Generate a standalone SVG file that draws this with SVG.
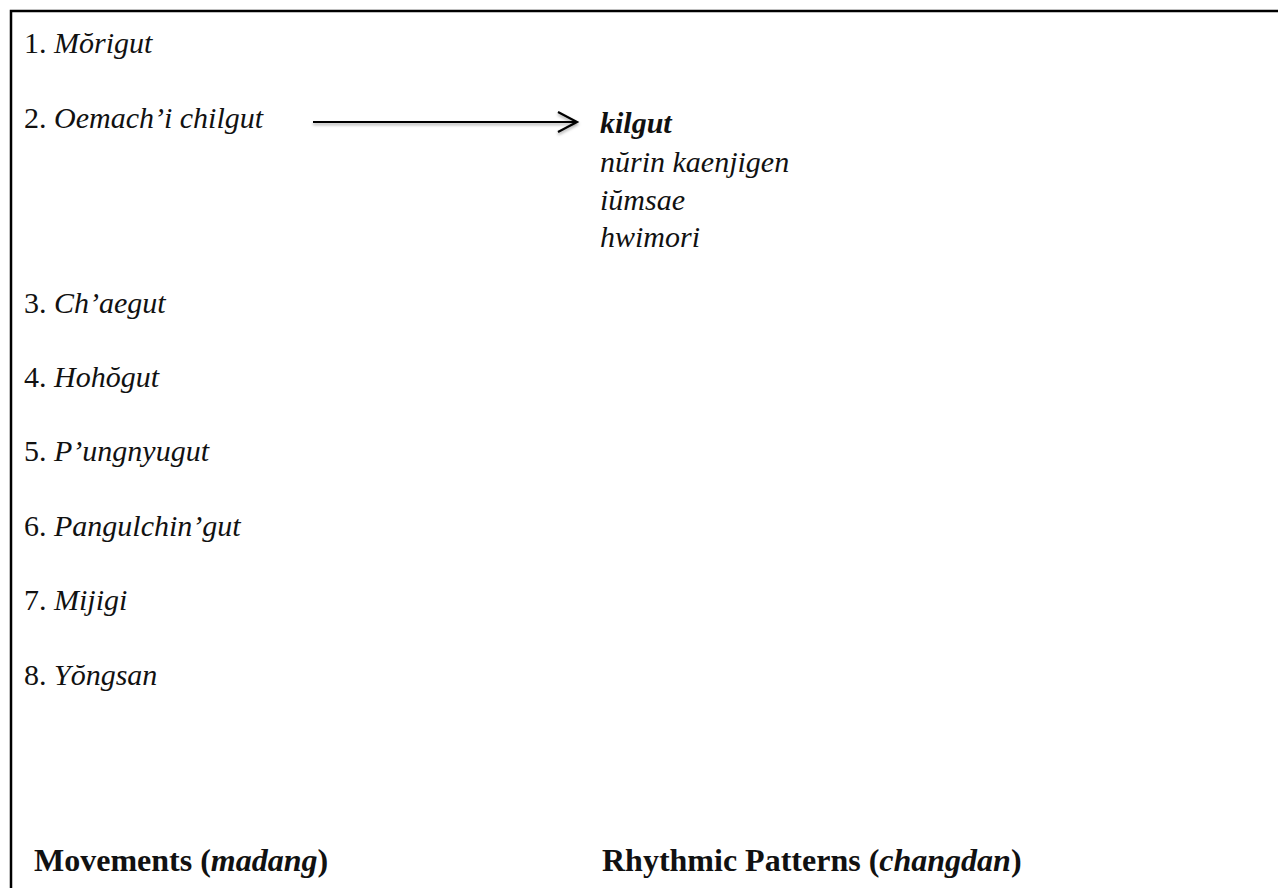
<svg xmlns="http://www.w3.org/2000/svg" width="1278" height="888" viewBox="0 0 1278 888">
<style>
.t{font-family:"Liberation Serif","Times New Roman",serif;font-size:30px;fill:#111}
.i{font-style:italic}
.b{font-weight:bold}
.h{font-family:"Liberation Serif","Times New Roman",serif;font-size:32px;font-weight:bold;fill:#111}
</style>
<defs>
<filter id="sh" x="-5%" y="-100%" width="110%" height="300%">
<feDropShadow dx="0" dy="2" stdDeviation="1.5" flood-color="#000" flood-opacity="0.35"/>
</filter>
</defs>
<rect width="1278" height="888" fill="#fff"/>
<path d="M11,888 V11 H1278" fill="none" stroke="#000" stroke-width="2.5"/>
<g id="movements">
<g id="m1"><text class="t" x="24" y="53">1. <tspan class="i">Mŏrigut</tspan></text></g>
<g id="m2"><text class="t" x="24" y="128">2. <tspan class="i">Oemach’i chilgut</tspan></text></g>
<g id="m3"><text class="t" x="24" y="313">3. <tspan class="i">Ch’aegut</tspan></text></g>
<g id="m4"><text class="t" x="24" y="387">4. <tspan class="i">Hohŏgut</tspan></text></g>
<g id="m5"><text class="t" x="24" y="461">5. <tspan class="i">P’ungnyugut</tspan></text></g>
<g id="m6"><text class="t" x="24" y="536">6. <tspan class="i">Pangulchin’gut</tspan></text></g>
<g id="m7"><text class="t" x="24" y="610">7. <tspan class="i">Mijigi</tspan></text></g>
<g id="m8"><text class="t" x="24" y="685">8. <tspan class="i">Yŏngsan</tspan></text></g>
</g>
<g id="patterns">
<g id="p1"><text class="t i b" x="600" y="133">kilgut</text></g>
<g id="p2"><text class="t i" x="600" y="172">nŭrin kaenjigen</text></g>
<g id="p3"><text class="t i" x="600" y="210">iŭmsae</text></g>
<g id="p4"><text class="t i" x="600" y="247">hwimori</text></g>
</g>
<g id="connectors" filter="url(#sh)" fill="none" stroke="#000" stroke-width="2.2">
<line x1="313" y1="122" x2="576" y2="122"/>
<polyline points="558,112 577,122 558,132"/>
</g>
<g id="labels">
<text class="h" x="34" y="871">Movements (<tspan class="i">madang</tspan>)</text>
<text class="h" x="602" y="871">Rhythmic Patterns (<tspan class="i">changdan</tspan>)</text>
</g>
</svg>
